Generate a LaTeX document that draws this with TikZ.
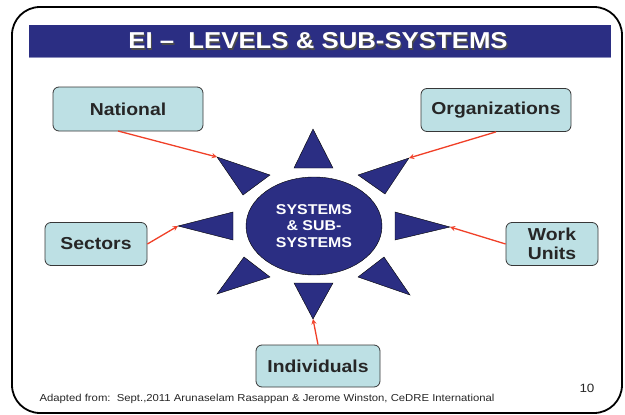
\documentclass[tikz,border=0pt]{standalone}
\usepackage{fontspec}
\setmainfont[FakeStretch=1.12]{Liberation Sans}
\usetikzlibrary{shapes,arrows,positioning}
\definecolor{slideblue}{RGB}{43,46,131}
\definecolor{boxfill}{RGB}{189,224,228}
\definecolor{boxline}{RGB}{55,55,55}
\definecolor{linkred}{RGB}{240,64,40}

\begin{document}
\begin{tikzpicture}[x=1pt, y=-1pt,
  level/.style={rectangle,rounded corners=6pt,draw=boxline,fill=boxfill,text=black!85,
    font=\bfseries\fontsize{17.3}{19.5}\selectfont,align=center,line width=0.8pt,inner sep=0pt},
  ray/.style={fill=slideblue,draw=black,line width=0.4pt},
  link/.style={->,>=stealth,draw=linkred,line width=1.3pt}]
  \useasboundingbox (0,0) rectangle (625,415);
  % slide frame and title
  \draw[line width=1.8pt, rounded corners=28pt] (12,7) rectangle (622,413);
  \fill[slideblue] (29,25) rectangle (611,57);
  \draw[slideblue!55, line width=1pt] (29,57) -- (611,57);
  \node[text=black!70, font=\bfseries\fontsize{23}{25}\selectfont] at (319.2,42.2) {EI --\ \ LEVELS \& SUB-SYSTEMS};
  \node[text=white, font=\bfseries\fontsize{23}{25}\selectfont] (title) at (318,41) {EI --\ \ LEVELS \& SUB-SYSTEMS};
  % centre
  \node[ellipse,fill=slideblue,draw=black,line width=0.4pt,minimum width=136pt,minimum height=98pt,
    text=white,font=\bfseries\fontsize{14.2}{16.5}\selectfont,align=center] (core) at (314,226) {SYSTEMS\\\& SUB-\\SYSTEMS};
  % rays
  \fill[ray] (313,129) coordinate (tN) -- (333,168) -- (294,168) -- cycle;
  \fill[ray] (313,319) coordinate (tS) -- (333,283) -- (294,283) -- cycle;
  \fill[ray] (178,226) coordinate (tW) -- (233,212) -- (233,240) -- cycle;
  \fill[ray] (450,227) coordinate (tE) -- (395,212) -- (395,240) -- cycle;
  \fill[ray] (217,157) coordinate (tNW) -- (270,175) -- (243,195) -- cycle;
  \fill[ray] (409,158) coordinate (tNE) -- (358,175) -- (385,194) -- cycle;
  \fill[ray] (217,294) coordinate (tSW) -- (270,277) -- (244,257) -- cycle;
  \fill[ray] (410,295) coordinate (tSE) -- (358,277) -- (384,257) -- cycle;
  % levels
  \node[level,minimum width=150pt,minimum height=44pt] (national) at (128,109) {National};
  \node[level,minimum width=150pt,minimum height=43pt] (orgs) at (496,110) {Organizations};
  \node[level,minimum width=102pt,minimum height=43pt] (sectors) at (96,244) {Sectors};
  \node[level,minimum width=92pt,minimum height=43pt] (units) at (552,244) {Work\\Units};
  \node[level,minimum width=124pt,minimum height=42pt] (people) at (318,366) {Individuals};
  \draw[link] (118,131) -- (tNW);
  \draw[link] (orgs.south) -- (tNE);
  \draw[link] (sectors.east) -- (tW);
  \draw[link] (units.west) -- (tE);
  \draw[link] (people.north) -- (tS);
  % footer
  \node[anchor=base west,font=\fontsize{10.1}{12}\selectfont,text=black!85] (source) at (36,401)
    {Adapted from:\ \ Sept.,2011 Arunaselam Rasappan \& Jerome Winston, CeDRE International};
  \node[anchor=base east,font=\fontsize{12}{14}\selectfont,text=black!85] (page) at (598,392) {10};
\end{tikzpicture}
\end{document}
